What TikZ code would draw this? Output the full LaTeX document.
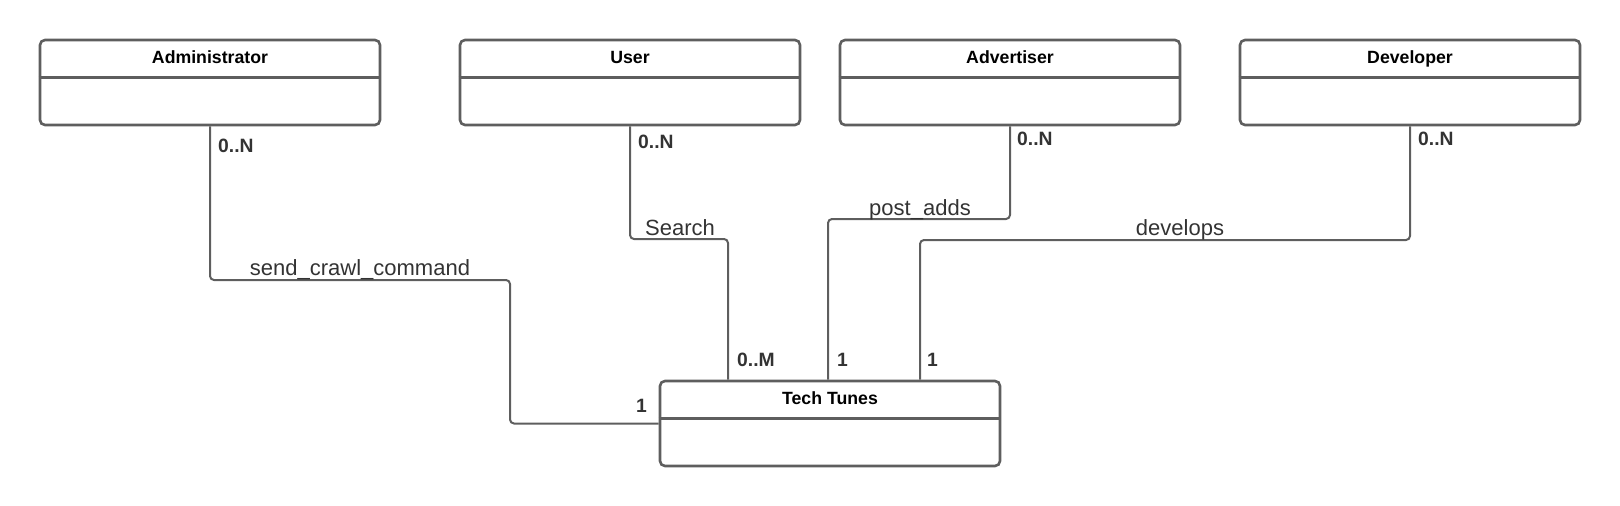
\documentclass[tikz,border=0pt]{standalone}
\usepackage{fontspec}
\setmainfont{Liberation Sans}
\usetikzlibrary{calc}
\definecolor{linegray}{HTML}{5E5E5E}
\definecolor{textgray}{HTML}{333333}
\tikzset{
  classbox/.style={draw=linegray, line width=2.6pt, rounded corners=5pt,
    minimum width=340pt, minimum height=85pt, inner sep=0pt},
  classline/.style={draw=linegray, line width=2.6pt},
  classtitle/.style={anchor=base, inner sep=0pt,
    font=\fontsize{17.7}{20}\selectfont\bfseries},
  relation/.style={draw=linegray, line width=2pt, rounded corners=4pt},
  relname/.style={anchor=base, inner sep=0pt, text=textgray,
    font=\fontsize{22}{26}\selectfont},
  mult/.style={anchor=base west, inner sep=0pt, text=textgray,
    font=\fontsize{19.3}{23}\selectfont\bfseries},
}
\begin{document}
\begin{tikzpicture}[x=1pt, y=-1pt]
\useasboundingbox (0,0) rectangle (1620,506);

% classes
\node[classbox] (admin) at (210,82.5) {};
\node[classbox] (user) at (630,82.5) {};
\node[classbox] (adv) at (1010,82.5) {};
\node[classbox] (dev) at (1410,82.5) {};
\node[classbox] (tech) at (830,423.5) {};

\foreach \c/\t in {admin/Administrator, user/User, adv/Advertiser, dev/Developer, tech/Tech Tunes} {
  \node[classtitle] (\c-title) at ([yshift=-24.5pt]\c.north) {\t};
  \draw[classline] ([yshift=-38.5pt]\c.north west) -- ([yshift=-38.5pt]\c.north east);
}

% bends
\coordinate (crawlbend) at (510,280);
\coordinate (searchbend) at (728,239);
\coordinate (postbend) at (828,219);
\coordinate (devbend) at (920,240);

% relations
\draw[relation] (admin.south) |- (crawlbend) |- (tech.west);
\draw[relation] (user.south) |- (searchbend) -- (searchbend |- tech.north);
\draw[relation] (adv.south) |- (postbend) -- (postbend |- tech.north);
\draw[relation] (dev.south) |- (devbend) -- (devbend |- tech.north);

% relation names
\node[relname] (crawl) at (360,275) {send\_crawl\_command};
\node[relname] (search) at (680,235) {Search};
\node[relname] (post) at (920,215) {post\_adds};
\node[relname] (develops) at (1180,235) {develops};

% multiplicities
\node[mult] (m-admin) at (218,152) {0..N};
\node[mult] (m-user) at (638,148) {0..N};
\node[mult] (m-adv) at (1017,145) {0..N};
\node[mult] (m-dev) at (1418,145) {0..N};
\node[mult] (m-search) at (737,366) {0..M};
\node[mult] (m-post) at (837,366) {1};
\node[mult] (m-develops) at (927,366) {1};
\node[mult, anchor=base east] (m-crawl) at (647,412) {1};

\end{tikzpicture}
\end{document}
